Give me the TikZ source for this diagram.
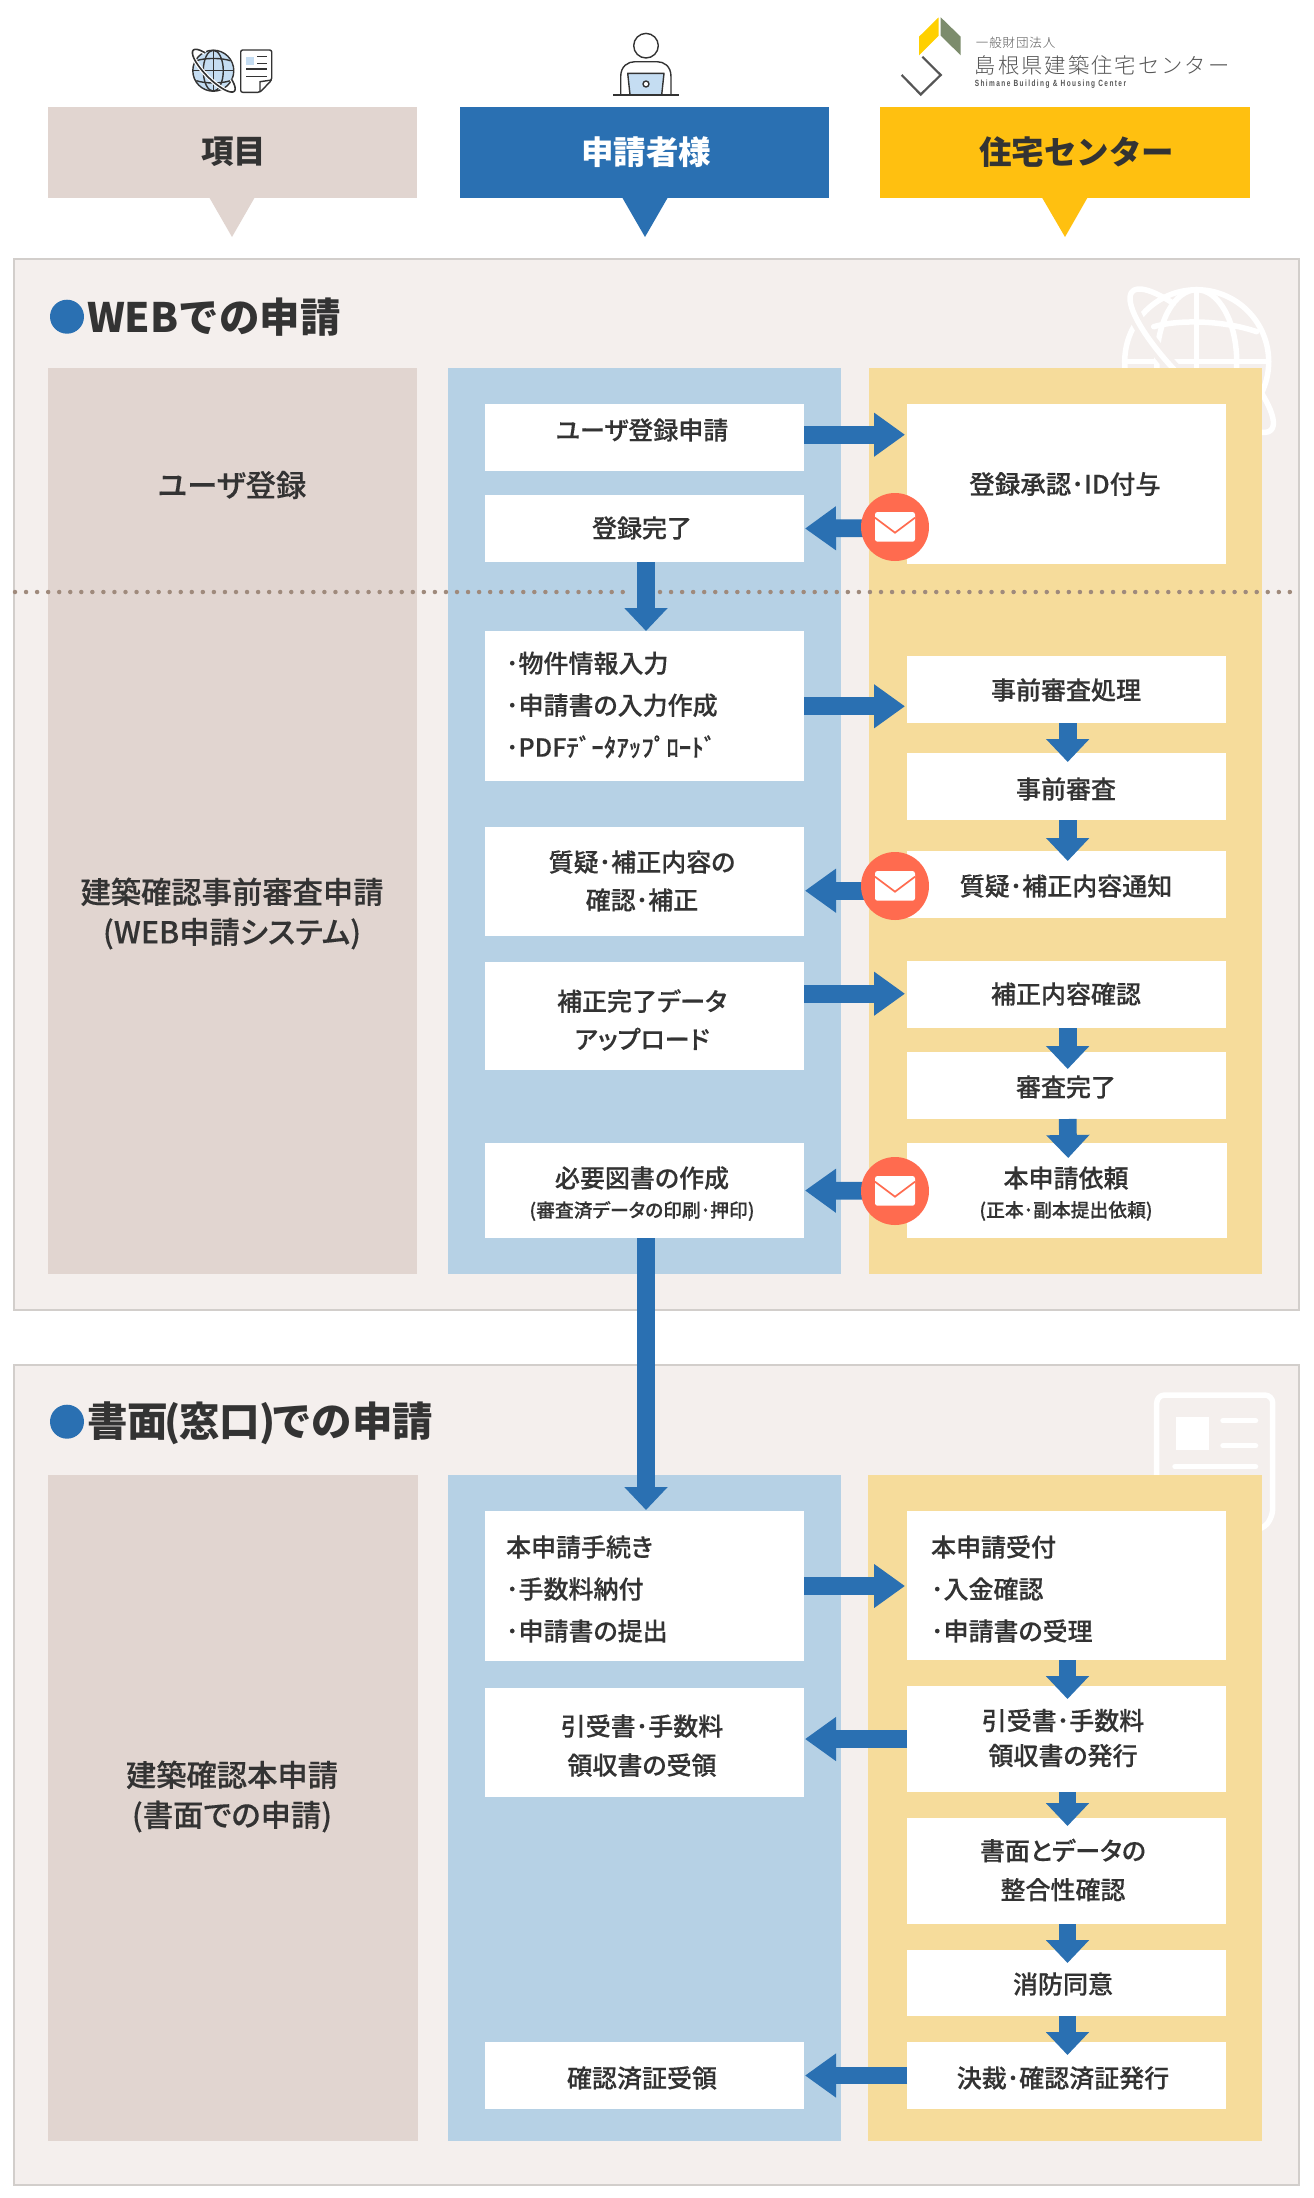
\documentclass[tikz,border=0pt]{standalone}
\usepackage{fontspec}
\usetikzlibrary{arrows.meta,calc}
\setmainfont{Noto Sans CJK JP Medium}
\newfontfamily\jpm{Noto Sans CJK JP Medium}[FakeBold=0.25,RawFeature=+palt]
\newfontfamily\jpb{Noto Sans CJK JP Bold}
\newfontfamily\jpk{Noto Sans CJK JP Black}
\newfontfamily\jpl{Noto Sans CJK JP Light}
\newfontfamily\latb{Liberation Sans Bold}
\definecolor{ink}{HTML}{333333}
\definecolor{graybox}{HTML}{E1D5D0}
\definecolor{bluemain}{HTML}{2A70B2}
\definecolor{yelmain}{HTML}{FFC010}
\definecolor{bluecol}{HTML}{B6D1E5}
\definecolor{yelcol}{HTML}{F6DC9B}
\definecolor{panelbg}{HTML}{F4EFED}
\definecolor{panelln}{HTML}{D2CECB}
\definecolor{mailc}{HTML}{FF6B4F}
\definecolor{icoblue}{HTML}{C5DDF2}
\definecolor{dotc}{HTML}{9F8A7C}
\definecolor{logoy}{HTML}{FFD000}
\definecolor{logog}{HTML}{7C8C6C}
\definecolor{logot}{HTML}{555555}
\tikzset{
  rectnode/.style={inner sep=0pt,outer sep=0pt,anchor=north west},
  whitebox/.style={rectnode,fill=white},
  txt/.style={inner sep=0pt,outer sep=0pt,text=ink,align=center},
  fatR/.style={draw=bluemain,line width=17.7pt,-{Triangle[width=42pt,length=31pt]},line cap=butt},
  fatD/.style={draw=bluemain,line width=17.7pt,-{Triangle[width=42pt,length=23pt]},line cap=butt},
  wm/.style={draw=white,line width=5.5pt,line cap=round,line join=round},
  ico/.style={draw=ink,line width=1.4pt,line join=round},
}
% rectangle node by corners
\newcommand{\rectnd}[6]{\node[#1,minimum width=\dimexpr#5pt-#3pt\relax,minimum height=\dimexpr#6pt-#4pt\relax] (#2) at (#3,#4) {};}
\newcommand{\bx}[5]{\rectnd{whitebox}{#1}{#2}{#3}{#4}{#5}}
% text: name, x, y, size, line spacing, text
\newcommand{\tx}[6]{\node[txt,font=\jpm\fontsize{#4}{#5}\selectfont] (#1) at (#2,#3) {#6};}
\newcommand{\txl}[6]{\node[txt,anchor=west,align=left,font=\jpm\fontsize{#4}{#5}\selectfont] (#1) at (#2,#3) {#6};}
% mail badge
\newcommand{\mailbadge}[3]{%
  \node[circle,fill=mailc,minimum size=68pt,inner sep=0pt,outer sep=0pt] (#1) at (#2,#3) {};
  \fill[white,rounded corners=2.5pt] ($(#1)+(-20,-15)$) rectangle ($(#1)+(20,14.7)$);
  \draw[mailc,line width=1.7pt,line join=miter] ($(#1)+(-20,-9.3)$) -- ($(#1)+(0,5.7)$) -- ($(#1)+(20,-9.3)$);
}
\begin{document}
\begin{tikzpicture}[x=1pt,y=-1pt]
\useasboundingbox (0,0) rectangle (1314,2198);
\fill[white] (0,0) rectangle (1314,2198);

% ---------- top icons ----------
% globe
\begin{scope}[shift={(213.3,70.7)}]
  \fill[icoblue] (0,0) circle (20.5);
  \draw[ico] (0,0) circle (20.5);
  \draw[ico] (0,0) ellipse [x radius=10,y radius=20.5];
  \draw[ico] (0,-20.5) -- (0,20.5) (-20.5,0) -- (20.5,0);
  \draw[ico] (-17,-10) .. controls (-8,-13) and (8,-13) .. (17,-10);
  \draw[ico] (-17,10) .. controls (-8,13) and (8,13) .. (17,10);
\end{scope}
\begin{scope}[shift={(213.8,70.7)},rotate=-45]
  \draw[white,line width=4pt] plot[domain=-50:230,samples=50,smooth] ({29*cos(\x)},{8.5*sin(\x)});
  \draw[ico,line width=1.6pt] plot[domain=-50:230,samples=50,smooth] ({29*cos(\x)},{8.5*sin(\x)});
\end{scope}
% document
\draw[ico,fill=white,rounded corners=2pt] (240.7,50) -- (271.7,50) -- (271.7,80) -- (260,92.3) -- (240.7,92.3) -- cycle;
\draw[ico,line join=miter] (271.7,80) -- (260,81.7) -- (260,92.3);
\fill[icoblue] (246,56.7) rectangle (254,65);
\draw[ico] (257.3,56.7) -- (266.7,56.7) (257.3,63.3) -- (266.7,63.3) (246,69) -- (266.7,69) (246,76.7) -- (266.7,76.7);
% person
\draw[ico] (646,45.7) circle (12.3);
\draw[ico] (620.7,94.7) -- (620.7,76.7) .. controls (620.7,66) and (628,61.7) .. (635,61.7) -- (657,61.7) .. controls (664,61.7) and (671,66) .. (671,76.7) -- (671,94.7);
\draw[ico,fill=icoblue] (627.7,73.3) -- (664,73.3) -- (661.7,94.7) -- (630,94.7) -- cycle;
\draw[ico,fill=white] (646,84) circle (3);
\draw[ico,line width=1.6pt] (613.3,94.7) -- (679,94.7);
% logo
\fill[logoy] (919,36.7) -- (938.7,17.3) -- (938.7,35.7) -- (919,55.3) -- cycle;
\fill[logog] (940.7,17.3) -- (960.7,36.7) -- (960.7,55.3) -- (940.7,35.7) -- cycle;
\draw[logot,line width=2.2pt] (922.3,56.7) -- (940.7,75) -- (920.7,94.5) -- (901.7,75);
\node[inner sep=0pt,anchor=west,text=logot,font=\jpl\fontsize{12.5}{14}\selectfont\addfontfeature{LetterSpace=7}] (logo1) at (975.7,43) {一般財団法人};
\node[inner sep=0pt,anchor=west,text=logot,font=\jpl\fontsize{21.3}{24}\selectfont\addfontfeature{LetterSpace=9.5}] (logo2) at (974.7,65.7) {島根県建築住宅センター};
\node[inner sep=0pt,anchor=west,text=logot,xscale=0.72,font=\latb\fontsize{9}{10}\selectfont\addfontfeature{LetterSpace=22}] (logo3) at (974.7,84.3) {Shimane Building \& Housing Center};

% ---------- header callouts ----------
\rectnd{rectnode,fill=graybox}{h1}{47.5}{107}{416.5}{198}
\rectnd{rectnode,fill=bluemain}{h2}{460}{107}{829}{198}
\rectnd{rectnode,fill=yelmain}{h3}{880}{107}{1249.5}{198}
\fill[graybox] (209.6,198) -- (254.4,198) -- (232,237) -- cycle;
\fill[bluemain] (622.5,198) -- (667.5,198) -- (645,237) -- cycle;
\fill[yelmain] (1042.3,198) -- (1087.3,198) -- (1065,237) -- cycle;
\node[txt,font=\jpk\fontsize{32.5}{36}\selectfont] (ht1) at (233.5,151.7) {項目};
\node[txt,text=white,font=\jpk\fontsize{32.5}{36}\selectfont] (ht2) at (646,151.7) {申請者様};
\node[txt,font=\jpk\fontsize{32.5}{36}\selectfont] (ht3) at (1076.5,151.7) {住宅センター};

% ---------- panels ----------
\rectnd{rectnode,fill=panelbg,draw=panelln,line width=1.6pt}{p1}{14}{259}{1299}{1310}
\rectnd{rectnode,fill=panelbg,draw=panelln,line width=1.6pt}{p2}{14}{1365}{1299}{2185}

% watermark globe
\begin{scope}[shift={(1196.7,361.7)}]
  \draw[wm] (0,0) circle (72);
  \draw[wm] (0,0) ellipse [x radius=40,y radius=72];
  \draw[wm] (0,-72) -- (0,72) (-72,0) -- (72,0);
  \draw[wm] (-43,-35) .. controls (-20,-42) and (25,-42) .. (60,-30);
\end{scope}
\begin{scope}[shift={(1201.7,360.7)},rotate=-45]
  \draw[panelbg,line width=14pt] plot[domain=20:160,samples=40,smooth] ({98*cos(\x)},{26*sin(\x)});
  \draw[wm] plot[domain=-55:232,samples=70,smooth] ({98*cos(\x)},{26*sin(\x)});
\end{scope}
% watermark document
\draw[wm,rounded corners=8pt] (1156.7,1530) -- (1156.7,1395) -- (1272.7,1395) -- (1272.7,1517) -- (1262,1530) -- cycle;
\fill[white] (1175.7,1416.7) rectangle (1208.7,1450);
\draw[wm] (1223,1420.7) -- (1255.5,1420.7) (1223,1445.7) -- (1255.5,1445.7) (1175,1466.7) -- (1255.5,1466.7);

% ---------- section titles ----------
\fill[bluemain] (67,316.7) circle (17);
\node[txt,anchor=west,font=\jpk\fontsize{40.5}{44}\selectfont] (s1) at (87,317) {WEBでの申請};
\fill[bluemain] (67,1421.7) circle (17);
\node[txt,anchor=west,font=\jpk\fontsize{40.5}{44}\selectfont] (s2) at (87,1423) {書面\kern-4pt(\kern-1pt窓口\kern-1pt)\kern-4ptでの申請};

% ---------- columns ----------
\rectnd{rectnode,fill=graybox}{c11}{47.5}{368}{417}{1274}
\rectnd{rectnode,fill=bluecol}{c12}{448}{368}{841}{1274}
\rectnd{rectnode,fill=yelcol}{c13}{869}{368}{1262}{1274}
\rectnd{rectnode,fill=graybox}{c21}{47.5}{1475}{418}{2141}
\rectnd{rectnode,fill=bluecol}{c22}{448}{1475}{841}{2141}
\rectnd{rectnode,fill=yelcol}{c23}{868}{1475}{1262}{2141}

% ---------- boxes ----------
\bx{ureq}{485}{404}{804}{471}
\bx{udone}{485}{495}{804}{562}
\bx{uappr}{907}{404}{1226}{564}
\bx{input}{485}{631}{804}{781}
\bx{pre1}{907}{656}{1226}{723}
\bx{pre2}{907}{753}{1226}{820}
\bx{qa}{485}{827}{804}{936}
\bx{qn}{907}{851}{1226}{918}
\bx{fixu}{485}{962}{804}{1070}
\bx{fixc}{907}{961}{1226}{1028}
\bx{pdone}{907}{1052}{1226}{1119}
\bx{docs}{485}{1143}{804}{1238}
\bx{hon}{907}{1143}{1227}{1238}
\bx{main}{485}{1511}{804}{1661}
\bx{recv}{907}{1511}{1226}{1660}
\bx{rcptl}{485}{1688}{804}{1797}
\bx{rcptr}{907}{1686}{1226}{1792}
\bx{chk}{907}{1818}{1226}{1924}
\bx{fire}{907}{1950}{1226}{2016}
\bx{issue}{907}{2042}{1226}{2109}
\bx{got}{485}{2042}{804}{2109}

% ---------- dotted divider ----------
\draw[dotc,line width=4.5pt,line cap=round,dash pattern=on 0pt off 11.05pt] (15,592) -- (632,592);
\draw[dotc,line width=4.5pt,line cap=round,dash pattern=on 0pt off 11.05pt] (660,592) -- (1297,592);

% ---------- text ----------
\tx{lb1}{232}{485}{30.3}{40}{ユーザ登録}
\tx{lb2}{232}{913.5}{30.3}{40}{建築確認事前審査申請\\(WEB申請システム)}
\tx{lb3}{232}{1796.5}{30.3}{40}{建築確認本申請\\(書面での申請)}
\tx{t1}{642}{430}{25}{30}{ユーザ登録申請}
\tx{t2}{642}{528}{25}{30}{登録完了}
\tx{t3}{1065}{484}{25.5}{30}{登録承認･ID付与}
\txl{t4}{506}{705}{25}{42}{･物件情報入力\\･申請書の入力作成\\･PDFﾃﾞｰﾀｱｯﾌﾟﾛｰﾄﾞ}
\tx{t5}{1066}{690}{25}{30}{事前審査処理}
\tx{t6}{1066}{789}{25}{30}{事前審査}
\tx{t7}{642}{881}{25}{38}{質疑･補正内容の\\確認･補正}
\tx{t8}{1066}{886}{25}{30}{質疑･補正内容通知}
\tx{t9}{642}{1020}{25}{38}{補正完了データ\\アップロード}
\tx{t10}{1066}{994}{25}{30}{補正内容確認}
\tx{t11}{1066}{1087}{25}{30}{審査完了}
\tx{t12}{642}{1178}{25}{30}{必要図書の作成}
\tx{t13}{642}{1211}{18.8}{22}{(審査済データの印刷･押印)}
\tx{t14}{1066}{1178}{25}{30}{本申請依頼}
\tx{t15}{1066}{1211}{18.8}{22}{(正本･副本提出依頼)}
\txl{t16}{506}{1589}{25}{42}{本申請手続き\\･手数料納付\\･申請書の提出}
\txl{t17}{931}{1589}{25}{42}{本申請受付\\･入金確認\\･申請書の受理}
\tx{t18}{642}{1745.6}{25}{39}{引受書･手数料\\領収書の受領}
\tx{t19}{1063}{1738}{25}{35}{引受書･手数料\\領収書の発行}
\tx{t20}{1063}{1870}{25}{39}{書面とデータの\\整合性確認}
\tx{t21}{1063}{1984}{25}{30}{消防同意}
\tx{t22}{1063}{2078}{25}{30}{決裁･確認済証発行}
\tx{t23}{642}{2078}{25}{30}{確認済証受領}

% ---------- arrows ----------
\draw[fatR] ([yshift=2.8pt]ureq.east) -- ([yshift=49.3pt,xshift=-2pt]uappr.west);
\draw[fatR] ([yshift=-0.3pt]input.east) -- ([xshift=-2pt,yshift=-0.3pt]pre1.west |- input.east);
\draw[fatR] ([yshift=22.3pt]fixu.east) -- ([xshift=-2pt,yshift=0.8pt]fixc.west);
\draw[fatR] ([yshift=0pt]main.east) -- ([xshift=-2pt]recv.west |- main.east);
\draw[fatR] ([yshift=0pt]rcptr.west) -- ([xshift=1pt]rcptr.west -| rcptl.east);
\draw[fatR] (issue.west) -- ([xshift=1pt]got.east);
% down arrows
\draw[fatD] ([xshift=1.5pt]udone.south) -- ([xshift=1.5pt]input.north);
\draw[fatD] ([xshift=1.5pt]docs.south) -- ([xshift=1.5pt,yshift=1pt]main.north);
\draw[fatD] ([xshift=1.2pt]pre1.south) -- ([xshift=1.2pt,yshift=-9pt]pre2.north);
\draw[fatD] ([xshift=1.2pt]pre2.south) -- ([xshift=1.2pt,yshift=-10pt]qn.north);
\draw[fatD] ([xshift=1.2pt]fixc.south) -- ([xshift=1.2pt,yshift=-17pt]pdone.north);
\draw[fatD] ([xshift=1.2pt]pdone.south) -- ([xshift=1.2pt,yshift=-15pt]hon.north);
\draw[fatD] ([xshift=1pt]recv.south) -- ([xshift=1pt,yshift=-13pt]rcptr.north);
\draw[fatD] ([xshift=1pt]rcptr.south) -- ([xshift=1pt,yshift=-8pt]chk.north);
\draw[fatD] ([xshift=1pt]chk.south) -- ([xshift=1pt,yshift=-13pt]fire.north);
\draw[fatD] ([xshift=1pt]fire.south) -- ([xshift=1pt,yshift=-13pt]issue.north);

% ---------- mail badges and their arrows ----------
\draw[fatR] (895,528) -- ([xshift=1pt]udone.east);
\draw[fatR] (895,890.7) -- ([xshift=1pt,yshift=-9.2pt]qa.east);
\draw[fatR] (895,1191) -- ([xshift=1pt]docs.east);
\mailbadge{m1}{895}{527}
\mailbadge{m2}{895}{886}
\mailbadge{m3}{895}{1191}
\end{tikzpicture}
\end{document}
